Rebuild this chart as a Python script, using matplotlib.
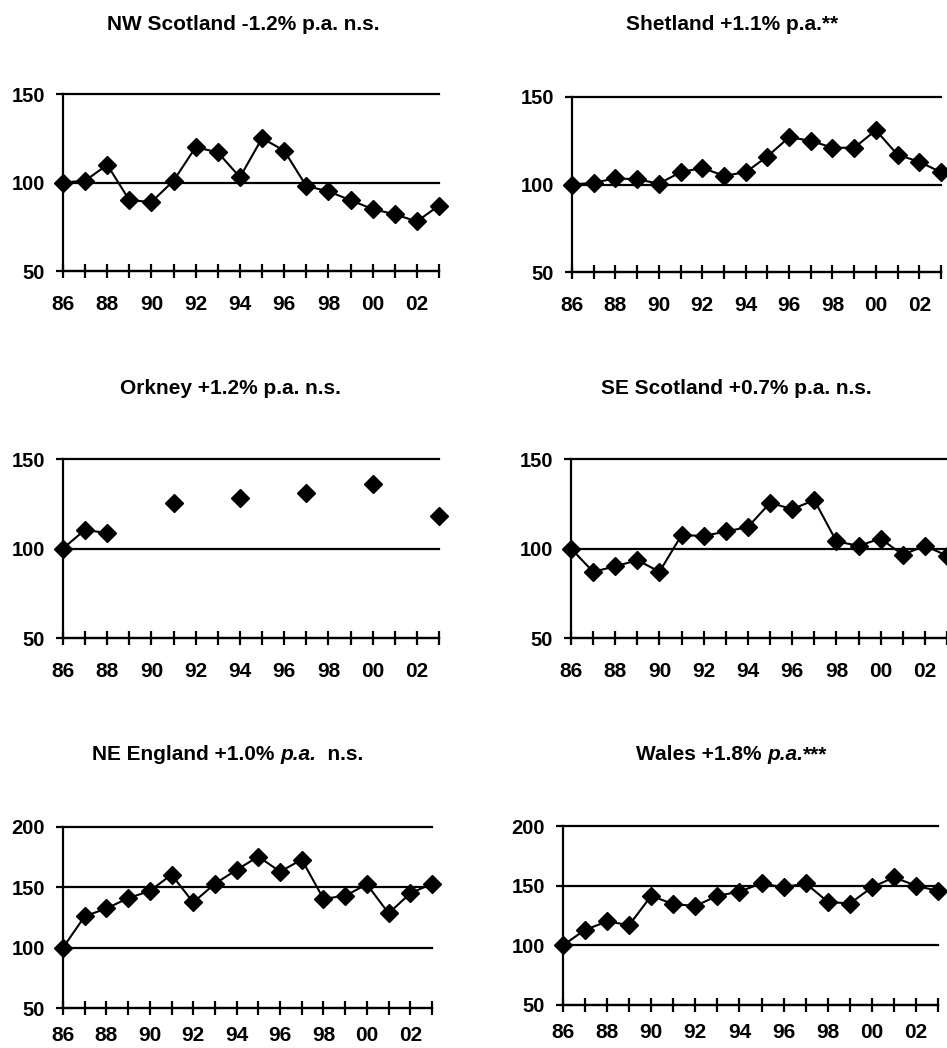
import numpy as np
import matplotlib
matplotlib.use('Agg')
import matplotlib.pyplot as plt

plt.rcParams['font.family'] = ['Liberation Sans', 'DejaVu Sans']

years = np.arange(86, 104)

nw_scotland = [100, 101, 110, 90, 89, 101, 120, 117, 103, 125, 118, 98, 95, 90, 85, 82, 78, 87]
shetland = [100, 101, 103.5, 103, 100.5, 107, 109.5, 105, 107, 116, 127, 125, 121, 121, 131, 117, 113, 107]
orkney = [100, 110.5, 108.5, np.nan, np.nan, 125.5, np.nan, np.nan, 128, np.nan, np.nan, 131,
          np.nan, np.nan, 136, np.nan, np.nan, 118]
se_scotland = [100, 87, 90, 93.5, 87, 107.5, 107, 109.5, 112, 125.5, 122, 127, 104, 101.5, 105.5, 96.5, 101.5, 96]
ne_england = [100, 126, 132.5, 141, 147, 160.5, 137.5, 153, 164.5, 175.5, 163, 173, 140.5, 143, 152.5, 128.5, 145, 153]
wales = [100, 113, 120, 117, 141.5, 134.5, 133, 141.5, 145, 152, 148.5, 152, 136.5, 135, 148.5, 157, 150, 145.5]

W, H = 947, 1048
fig = plt.figure(figsize=(W / 100, H / 100), dpi=100)


def px_axes(left, right, top, bottom):
    return fig.add_axes([left / W, 1 - bottom / H, (right - left) / W, (bottom - top) / H])


def panel(rect, values, ylim, yticks, xpad=12):
    ax = px_axes(*rect)
    ax.plot(years, values, color='black', lw=1.5, marker='D', ms=9.5,
            markerfacecolor='black', markeredgecolor='black', clip_on=False, zorder=5)
    ax.set_xlim(86, 103)
    ax.set_ylim(*ylim)
    ax.set_yticks(yticks)
    ax.set_xticks(years)
    ax.set_xticklabels([str(y % 100).zfill(2) if (y % 2 == 0 and y < 103) else '' for y in years])
    ax.spines['top'].set_visible(False)
    ax.spines['right'].set_visible(False)
    for s in ('left', 'bottom'):
        ax.spines[s].set_linewidth(1.6)
    ax.tick_params(axis='x', direction='inout', length=10, width=1.6, pad=xpad,
                   labelsize=15)
    ax.tick_params(axis='y', direction='out', length=5, width=1.6, pad=8,
                   labelsize=14.5)
    for lab in ax.get_xticklabels() + ax.get_yticklabels():
        lab.set_fontweight('bold')
    ax.grid(axis='y', color='black', lw=1.6)
    ax.grid(axis='x', visible=False)
    for gl in ax.get_ygridlines():
        gl.set_clip_on(False)
    ax.set_facecolor('none')
    return ax


panel((63, 439, 94, 271), nw_scotland, (50, 150), [50, 100, 150])
panel((572, 941, 97, 272), shetland, (50, 150), [50, 100, 150])
panel((63, 439, 459, 638), orkney, (50, 150), [50, 100, 150])
panel((571, 947, 459, 638), se_scotland, (50, 150), [50, 100, 150])
panel((63, 432, 827, 1008), ne_england, (50, 200), [50, 100, 150, 200], xpad=8)
panel((563, 938, 826, 1005), wales, (50, 200), [50, 100, 150, 200], xpad=8)


def title(cx, cy, pieces):
    # pieces: list of (text, italic)
    texts = []
    for txt, it in pieces:
        t = fig.text(0, 1 - cy / H, txt, fontsize=15, fontweight='bold',
                     fontstyle='italic' if it else 'normal', va='center', ha='left')
        texts.append(t)
    fig.canvas.draw()
    r = fig.canvas.get_renderer()
    widths = [t.get_window_extent(r).width for t in texts]
    x = cx - sum(widths) / 2
    for t, w in zip(texts, widths):
        t.set_x(x / W)
        x += w


title(243, 25, [('NW Scotland -1.2% p.a. n.s.', False)])
title(732, 25, [('Shetland +1.1% p.a.**', False)])
title(230, 389, [('Orkney +1.2% p.a. n.s.', False)])
title(736, 389, [('SE Scotland +0.7% p.a. n.s.', False)])
title(228, 755, [('NE England +1.0% ', False), ('p.a.', True), ('  n.s.', False)])
title(732, 755, [('Wales +1.8% ', False), ('p.a.', True), ('***', False)])

fig.savefig('out.png', dpi=100)
